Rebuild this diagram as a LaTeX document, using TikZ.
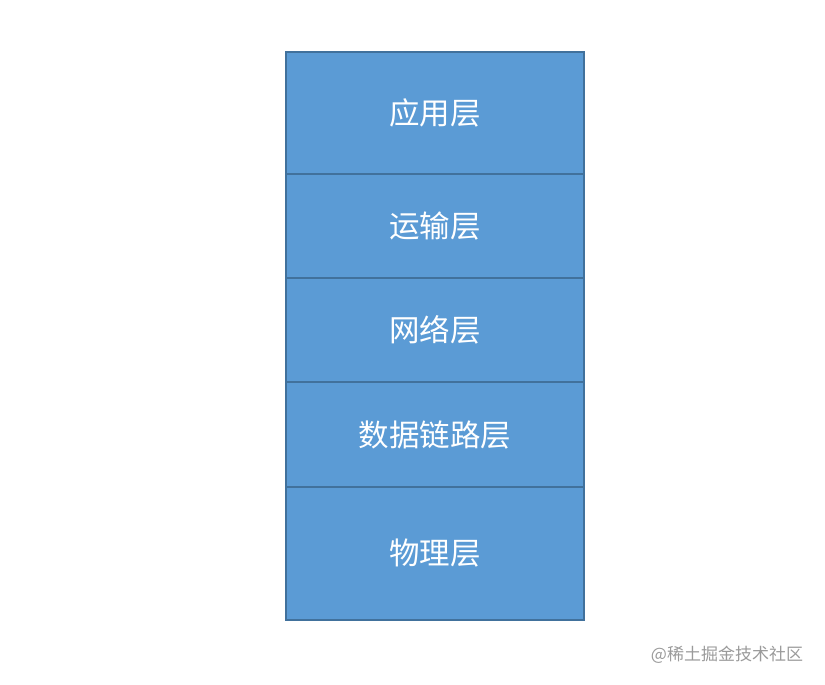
\documentclass[tikz,border=0pt]{standalone}
\usepackage{fontspec}
\newfontfamily\cjk{Noto Sans CJK SC}
\usetikzlibrary{positioning}
\definecolor{layerfill}{HTML}{5B9BD5}
\definecolor{layerborder}{HTML}{41719C}
\definecolor{markgray}{HTML}{9A9A9A}
\begin{document}
\begin{tikzpicture}[x=1pt,y=-1pt,node distance=0pt,
layer/.style={
% The shape:
rectangle,
draw=layerborder,
fill=layerfill,
line width=1.2pt,
outer sep=0pt,
inner sep=0pt,
minimum width=298pt,
text=white,
font=\cjk\fontsize{30.5}{30.5}\selectfont
},
watermark/.style={
text=markgray,
font=\cjk\fontsize{17}{17}\selectfont
}
]
\useasboundingbox (0,0) rectangle (825,685);
% Stack of layers, top to bottom:
\node (app) [layer,minimum height=122pt] at (435,113) {应用层};
\node (transport) [layer,minimum height=104pt,below=of app] {运输层};
\node (network) [layer,minimum height=104pt,below=of transport] {网络层};
\node (datalink) [layer,minimum height=105pt,below=of network] {数据链路层};
\node (physical) [layer,minimum height=133pt,below=of datalink] {物理层};
\node (mark) [watermark] at (727,655) {@稀土掘金技术社区};
\end{tikzpicture}
\end{document}
